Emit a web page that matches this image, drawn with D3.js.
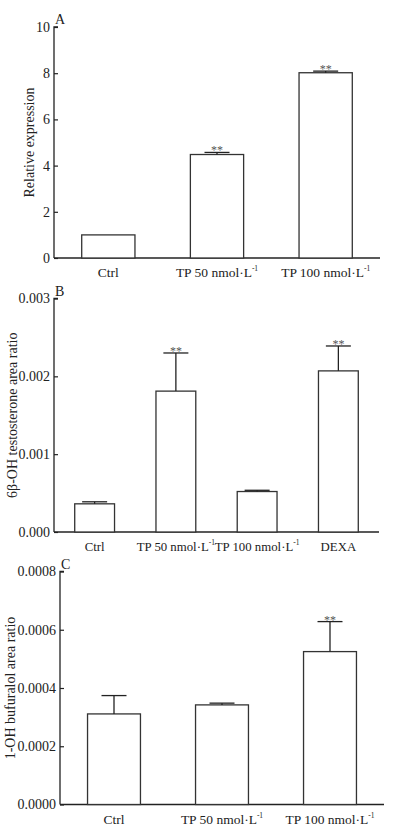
<!DOCTYPE html>
<html>
<head>
<meta charset="utf-8">
<script src="https://cdn.jsdelivr.net/npm/d3@7"></script>
<style>
  body { margin: 0; background: #fff; }
  svg { display: block; }
  text { font-family: "Liberation Serif", "DejaVu Serif", serif; fill: #222; }
</style>
</head>
<body>
<div id="chart"></div>
<script>
// panel A: relative expression
let catsA = ["Ctrl", "TP 50", "TP 100"];
let valsA = [1.0, 4.48, 8.02];
let errsA = [0, 0.09, 0.07];
let sigA = ["", "**", "**"];
let ticksA = [0, 2, 4, 6, 8, 10];

// panel B: 6b-OH testosterone
let catsB = ["Ctrl", "TP 50", "TP 100", "DEXA"];
let valsB = [0.000362, 0.00181, 0.00052, 0.00207];
let errsB = [0.000026, 0.00049, 0.000016, 0.00032];
let sigB = ["", "**", "", "**"];
let ticksB = [0, 0.001, 0.002, 0.003];

// panel C: 1-OH bufuralol
let catsC = ["Ctrl", "TP 50", "TP 100"];
let valsC = [0.000311, 0.000342, 0.000525];
let errsC = [0.000063, 0.000006, 0.000103];
let sigC = ["", "", "**"];
let ticksC = [0, 0.0002, 0.0004, 0.0006, 0.0008];

let width = 397;
let height = 837;

let svg = d3.select("#chart").append("svg")
  .attr("width", width)
  .attr("height", height);

function drawPanel(p) {
  let x = d3.scaleBand()
    .domain(p.cats)
    .range([p.left, p.right])
    .paddingInner(0.51)
    .paddingOuter(0.255);

  let y = d3.scaleLinear()
    .domain([0, p.ymax])
    .range([p.bottom, p.top]);

  let g = svg.append("g");

  // y axis, ticks point inward
  let yAxis = d3.axisRight(y)
    .tickValues(p.ticks)
    .tickFormat(p.fmt)
    .tickSize(4)
    .tickPadding(0);

  let ya = g.append("g")
    .attr("transform", `translate(${p.left},0)`)
    .call(yAxis);
  ya.select(".domain").attr("stroke", "#222").attr("stroke-width", 1.3)
    .attr("d", `M${4},${p.top}H0V${p.bottom}`);
  ya.selectAll(".tick line").attr("stroke", "#222").attr("stroke-width", 1.2);
  ya.selectAll(".tick text")
    .attr("x", -4)
    .attr("text-anchor", "end")
    .style("font-size", "14px")
    .attr("fill", "#222");

  // x axis line
  g.append("line")
    .attr("x1", p.left).attr("x2", p.right)
    .attr("y1", p.bottom).attr("y2", p.bottom)
    .attr("stroke", "#222").attr("stroke-width", 1.3);

  // bars
  g.selectAll(".bar")
    .data(p.vals)
    .enter().append("rect")
    .attr("x", (d, i) => x(p.cats[i]))
    .attr("y", d => y(d))
    .attr("width", x.bandwidth())
    .attr("height", d => p.bottom - y(d))
    .attr("fill", "#fff")
    .attr("stroke", "#333")
    .attr("stroke-width", 1.3);

  // error bars
  p.vals.forEach((v, i) => {
    if (!p.errs[i]) return;
    let cx = x(p.cats[i]) + x.bandwidth() / 2;
    g.append("line")
      .attr("x1", cx).attr("x2", cx)
      .attr("y1", y(v)).attr("y2", y(v + p.errs[i]))
      .attr("stroke", "#222").attr("stroke-width", 1.3);
    g.append("line")
      .attr("x1", cx - 12.5).attr("x2", cx + 12.5)
      .attr("y1", y(v + p.errs[i])).attr("y2", y(v + p.errs[i]))
      .attr("stroke", "#222").attr("stroke-width", 1.3);
    if (p.sig[i]) {
      g.append("text")
        .attr("x", cx)
        .attr("y", y(v + p.errs[i]) + 2)
        .attr("text-anchor", "middle")
        .style("font-size", "12px")
        .style("fill", "#555")
        .text(p.sig[i]);
    }
  });

  // x labels
  p.cats.forEach((c, i) => {
    let cx = x(c) + x.bandwidth() / 2;
    let t = g.append("text")
      .attr("x", cx)
      .attr("y", p.bottom + 19)
      .attr("text-anchor", "middle")
      .style("font-size", p.labelSize + "px");
    if (c.startsWith("TP")) {
      t.append("tspan").text(c + " nmol\u00B7L");
      t.append("tspan").attr("dy", -6).style("font-size", "7.5px").text("-1");
    } else {
      t.text(c);
    }
  });

  // y title
  g.append("text")
    .attr("transform", `translate(${p.titleX},${(p.top + p.bottom) / 2}) rotate(-90)`)
    .attr("text-anchor", "middle")
    .style("font-size", "14px")
    .text(p.title);

  // panel letter
  g.append("text")
    .attr("x", p.left + 1)
    .attr("y", p.top - 3)
    .style("font-size", "14px")
    .text(p.letter);
}

drawPanel({
  cats: catsA, vals: valsA, errs: errsA, sig: sigA, ticks: ticksA,
  ymax: 10, fmt: d3.format("d"), labelSize: 13.5,
  left: 54, right: 380, top: 27, bottom: 258,
  title: "Relative expression", titleX: 34, letter: "A"
});

drawPanel({
  cats: catsB, vals: valsB, errs: errsB, sig: sigB, ticks: ticksB,
  ymax: 0.003, fmt: d3.format(".3f"), labelSize: 12.8,
  left: 54, right: 379, top: 298.5, bottom: 532,
  title: "6\u03B2-OH testosterone area ratio", titleX: 17, letter: "B"
});

drawPanel({
  cats: catsC, vals: valsC, errs: errsC, sig: sigC, ticks: ticksC,
  ymax: 0.0008, fmt: d3.format(".4f"), labelSize: 13.5,
  left: 60, right: 384, top: 571.5, bottom: 804.5,
  title: "1-OH bufuralol area ratio", titleX: 15, letter: "C"
});
</script>
</body>
</html>
